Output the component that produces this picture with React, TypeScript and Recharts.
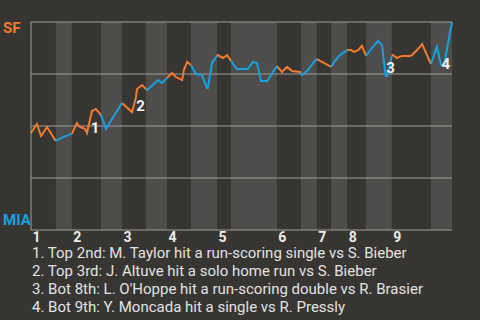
import React from "react";
import {
  LineChart,
  Line,
  XAxis,
  YAxis,
  ReferenceArea,
  ReferenceLine,
  ReferenceDot,
} from "recharts";

const SF_ORANGE = "#f47a2c";
const MIA_BLUE = "#17a0e0";
const BG = "#373532";
const BAND = "#4e4d4b";
const GRID = "#a09f9c";

// half-inning edges, in % of game progress (top 1, bot 1, top 2, ...)
const HALF_EDGES = [0, 5.9, 9.7, 16.6, 21.6, 27.3, 32.3, 38.0, 44.2, 47.5, 58.4, 64.1, 67.9, 71.3, 75.1, 79.6, 85.7, 95.0, 100];
const INNING_LABELS = ["1", "2", "3", "4", "5", "6", "7", "8", "9"];

// game progress (%) and SF win probability (%)
const PROGRESS = [
  0, 1.4, 2.4, 3.8, 5.9,
  7.1, 9.5, 9.7,
  10.9, 11.6, 12.8, 13.3, 14.3, 14.5, 15.4, 16.2, 16.6,
  16.9, 17.8, 21.6,
  24.0, 24.9, 25.2, 26.4, 26.8, 27.3,
  27.6, 30.2, 31.1, 32.3,
  33.5, 34.4, 35.9, 36.3, 37.1, 38.0,
  39.2, 40.6, 41.8, 42.0, 43.0, 44.2,
  44.4, 45.6, 46.6, 47.5,
  48.9, 51.5, 52.7, 53.7, 54.6, 56.1, 58.4,
  59.6, 60.8, 62.0, 63.9, 64.1,
  64.4, 65.8, 67.2, 67.9,
  69.1, 71.3,
  72.0, 73.4, 75.1,
  76.0, 76.7, 77.7, 78.6, 79.6,
  81.0, 82.4, 83.4, 83.8, 84.3, 84.6, 85.3, 85.7,
  86.0, 86.9, 88.1, 90.0, 90.5, 91.7, 92.9, 95.0,
  96.4, 97.4, 98.1, 100,
];
const SF_WIN = [
  46.6, 51.0, 45.2, 49.5, 42.8,
  44.2, 46.2, 46.2,
  51.4, 49.5, 48.6, 46.6, 55.8, 57.2, 58.2, 56.3, 55.3,
  53.8, 48.6, 61.1,
  56.7, 63.5, 67.8, 69.7, 68.8, 67.8,
  67.3, 72.1, 70.7, 73.1,
  75.5, 73.6, 72.1, 76.9, 80.8, 79.3,
  75.0, 74.5, 68.3, 68.3, 80.3, 83.7,
  84.1, 82.7, 84.1, 81.3,
  77.4, 77.4, 80.8, 80.3, 71.6, 71.6, 78.8,
  76.0, 78.4, 76.4, 76.0, 75.5,
  74.5, 76.9, 80.8, 82.2,
  80.8, 78.4,
  80.8, 84.1, 86.5,
  86.5, 85.6, 86.5, 88.5, 83.7,
  87.5, 90.9, 88.9, 81.3, 74.0, 74.0, 79.3, 83.7,
  84.1, 82.7, 83.7, 83.7, 84.1, 86.5, 89.4, 79.8,
  88.0, 79.3, 79.3, 100,
];

const EVENT_X = [15.2, 26.0, 85.4, 98.5];
const EVENT_Y = [49.0, 59.4, 78.1, 80.0];
const EVENT_TEXT = [
  "1. Top 2nd: M. Taylor hit a run-scoring single vs S. Bieber",
  "2. Top 3rd: J. Altuve hit a solo home run vs S. Bieber",
  "3. Bot 8th: L. O'Hoppe hit a run-scoring double vs R. Brasier",
  "4. Bot 9th: Y. Moncada hit a single vs R. Pressly",
];

// split the line into SF-batting (top) and MIA-batting (bottom) pieces
const data = PROGRESS.map((x, i) => {
  let top: number | null = null;
  let bot: number | null = null;
  for (let h = 0; h < HALF_EDGES.length - 1; h++) {
    if (x >= HALF_EDGES[h] && x <= HALF_EDGES[h + 1]) {
      if (h % 2 === 0) top = SF_WIN[i];
      else bot = SF_WIN[i];
    }
  }
  return { x, top, bot };
});

const inningStarts = HALF_EDGES.filter((_, i) => i % 2 === 0 && i < 18);

const XTick = ({ x, y, index }: any) => (
  <text x={x + 1.5} y={y - 1} dominantBaseline="central" textAnchor="start"
    fill="#ececec" fontSize={14} fontWeight={700} fontFamily="Roboto">
    {INNING_LABELS[index]}
  </text>
);

const YTick = ({ y, payload }: any) => {
  if (payload.value === 100)
    return <text x={3} y={y + 6} dominantBaseline="central" fill={SF_ORANGE}
      fontSize={15} fontWeight={700} fontFamily="Roboto">SF</text>;
  if (payload.value === 0)
    return <text x={3} y={y - 10} dominantBaseline="central" fill={MIA_BLUE}
      fontSize={15} fontWeight={700} fontFamily="Roboto">MIA</text>;
  return <g />;
};

export default function App() {
  return (
    <div style={{ position: "absolute", left: 0, top: 0, width: 480, height: 320, background: BG, fontFamily: "Roboto" }}>
      <LineChart width={480} height={250} data={data} margin={{ top: 22, right: 28, left: 0, bottom: 0 }}>
        {HALF_EDGES.slice(0, -1).map((x1, i) =>
          i % 2 === 1 ? (
            <ReferenceArea key={i} x1={x1} x2={HALF_EDGES[i + 1]} y1={0} y2={100}
              fill={BAND} fillOpacity={1} stroke="none" />
          ) : null
        )}
        {[25, 50, 75, 100].map((v) => (
          <ReferenceLine key={v} y={v} stroke={GRID} strokeWidth={1} />
        ))}
        <XAxis dataKey="x" type="number" domain={[0, 100]} ticks={inningStarts} interval={0}
          height={20} tickLine={false} axisLine={{ stroke: GRID }} tick={<XTick />} />
        <YAxis type="number" domain={[0, 100]} ticks={[0, 25, 50, 75, 100]} width={31}
          tickLine={false} axisLine={{ stroke: GRID }} tick={<YTick />} />
        <Line dataKey="top" type="linear" stroke={SF_ORANGE} strokeWidth={2} dot={false}
          connectNulls={false} isAnimationActive={false} />
        <Line dataKey="bot" type="linear" stroke={MIA_BLUE} strokeWidth={2} dot={false}
          connectNulls={false} isAnimationActive={false} />
        {EVENT_X.map((ex, i) => (
          <ReferenceDot key={i} x={ex} y={EVENT_Y[i]} r={0}
            shape={(p: any) => (
              <text x={p.cx} y={p.cy} textAnchor="middle" dominantBaseline="central"
                fill="#f2f2f2" fontSize={15} fontWeight={700} fontFamily="Roboto">{i + 1}</text>
            )} />
        ))}
      </LineChart>
      <div style={{ position: "absolute", left: 32, top: 244, color: "#e2e2e2", fontSize: 15, lineHeight: "18px" }}>
        {EVENT_TEXT.map((t) => (
          <div key={t}>{t}</div>
        ))}
      </div>
    </div>
  );
}
